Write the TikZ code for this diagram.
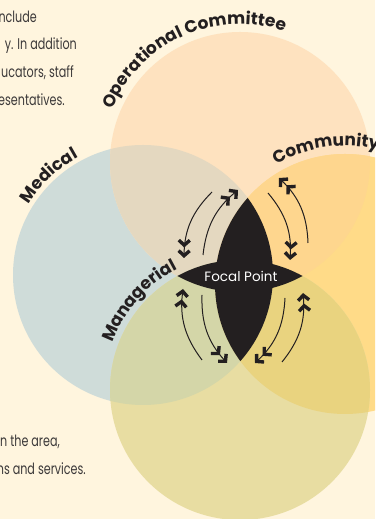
\documentclass[tikz,border=0pt]{standalone}
\usepackage{fontspec}
\newfontfamily\labfont{Poppins}
\newfontfamily\bodyfont{Poppins}[FakeStretch=0.72]
\usetikzlibrary{arrows.meta,decorations.text}

\definecolor{bg}{HTML}{FFF5DE}
\definecolor{opc}{HTML}{FEE2BF}
\definecolor{medc}{HTML}{CFDCD9}
\definecolor{comc}{HTML}{FFDB88}
\definecolor{manc}{HTML}{E8DDA2}
\definecolor{opmed}{HTML}{E4D8C0}
\definecolor{opcom}{HTML}{FED68E}
\definecolor{manmed}{HTML}{D4D6A8}
\definecolor{mancom}{HTML}{E9D37F}
\definecolor{ink}{HTML}{231F20}
\definecolor{bodyc}{HTML}{3C3939}

\begin{document}
\begin{tikzpicture}[x=1bp,y=1bp,
  link/.style={line width=1bp, draw=ink,
    -{Straight Barb[length=5bp,width=11bp,line width=3.4bp,sharp,sep=1.5bp]Straight Barb[length=5bp,width=11bp,line width=3.4bp,sharp]}},
  body/.style={font=\bodyfont\fontsize{15.5bp}{18bp}\selectfont, text=bodyc, anchor=base east, inner sep=0pt},
  arclabel/.style={decorate, decoration={text along path, text align=center,
    text={|\color{ink}\labfont\bfseries\fontsize{17bp}{20bp}\selectfont|#1}}}
]
\useasboundingbox (0,0) rectangle (375,519);
\clip (0,0) rectangle (375,519);
\fill[bg] (0,0) rectangle (375,519);

% circle centres
\coordinate (med) at (143,244);
\coordinate (com) at (345,235);
\coordinate (op)  at (240,357);
\coordinate (man) at (240,129);
\def\R{130}

% plain discs
\fill[medc] (med) circle[radius=\R];
\fill[opc]  (op)  circle[radius=\R];
\fill[comc] (com) circle[radius=\R];
\fill[manc] (man) circle[radius=\R];

% pairwise overlaps
\begin{scope}\clip (op) circle[radius=\R]; \fill[opmed] (med) circle[radius=\R];\end{scope}
\begin{scope}\clip (op) circle[radius=\R]; \fill[opcom] (com) circle[radius=\R];\end{scope}
\begin{scope}\clip (man) circle[radius=\R]; \fill[manmed] (med) circle[radius=\R];\end{scope}
\begin{scope}\clip (man) circle[radius=\R]; \fill[mancom] (com) circle[radius=\R];\end{scope}

% focal point: union of the two lenses
\begin{scope}\clip (med) circle[radius=\R]; \fill[ink] (com) circle[radius=\R];\end{scope}
\begin{scope}\clip (op) circle[radius=\R]; \fill[ink] (man) circle[radius=\R];\end{scope}
\node[text=white, font=\labfont\fontsize{13.5bp}{16bp}\selectfont, inner sep=0pt] (focal) at (241,243) {Focal Point};

% curved labels
\path[arclabel={Operational Committee}] (op) ++(170:138) arc[start angle=170, end angle=59, radius=138];
\path[arclabel={Medical}] (med) ++(160:134) arc[start angle=160, end angle=107, radius=134];
\path[arclabel={Community}] (com) ++(126:138) arc[start angle=126, end angle=70, radius=138];
\path[arclabel={Managerial}] (man) ++(166:136) arc[start angle=166, end angle=111, radius=136];

% arrow end points
\coordinate (a1s) at (212,327); \coordinate (a1e) at (184,261);
\coordinate (a2s) at (203,264); \coordinate (a2e) at (238,329);
\coordinate (b1s) at (268,326); \coordinate (b1e) at (290,259);
\coordinate (b2s) at (308,276); \coordinate (b2e) at (279,341);
\coordinate (c1s) at (202,159); \coordinate (c1e) at (183,230);
\coordinate (c2s) at (202,224); \coordinate (c2e) at (227,156);
\coordinate (d1s) at (285,221); \coordinate (d1e) at (255,156);
\coordinate (d2s) at (282,157); \coordinate (d2e) at (303,226);

\draw[link] (a1s) to[bend right=22] (a1e);
\draw[link] (a2s) to[bend left=22]  (a2e);
\draw[link] (b1s) to[bend left=22]  (b1e);
\draw[link] (b2s) to[bend right=22] (b2e);
\draw[link] (c1s) to[bend left=22]  (c1e);
\draw[link] (c2s) to[bend right=22] (c2e);
\draw[link] (d1s) to[bend left=22]  (d1e);
\draw[link] (d2s) to[bend right=22] (d2e);

% side text
\node[body] (t1) at (37,496) {nclude};
\node[body] (t2) at (77,469) {y. In addition};
\node[body] (t3) at (74,441) {ucators, staff};
\node[body] (t4) at (65,413) {esentatives.};
\node[body] (t5) at (60,72) {n the area,};
\node[body] (t6) at (86,44) {ns and services.};
\end{tikzpicture}
\end{document}
